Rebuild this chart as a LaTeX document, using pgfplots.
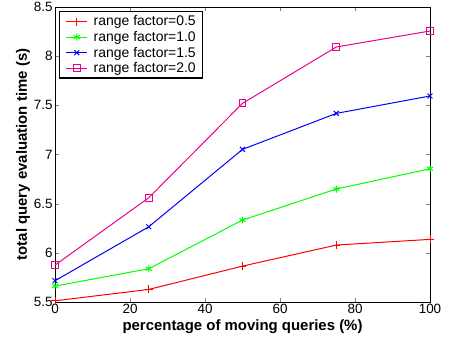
\documentclass[border=0pt]{standalone}
\usepackage{fontspec}
\setmainfont{Liberation Sans}
\usepackage{pgfplots}
\pgfplotsset{compat=1.18}
\begin{document}
\begin{tikzpicture}[x=1bp,y=1bp]
\path[use as bounding box] (0,0) rectangle (449,339);
\begin{axis}[
  at={(55bp,37bp)}, anchor=south west,
  scale only axis, width=375bp, height=295bp,
  xmin=0, xmax=100, ymin=5.5, ymax=8.5,
  xtick={0,20,40,60,80,100},
  ytick={5.5,6,6.5,7,7.5,8,8.5},
  yticklabels={5.5,6,6.5,7,7.5,8,8.5},
  tick align=inside,
  major tick length=4bp,
  /pgf/number format/assume math mode=true,
  tick label style={font=\fontsize{13.5}{14}\selectfont},
  xticklabel style={yshift=1bp},
  yticklabel style={xshift=1bp},
  xlabel={\bfseries percentage of moving queries (\%)},
  ylabel={\bfseries total query evaluation time (s)},
  label style={font=\fontsize{15}{16}\selectfont},
  xlabel style={yshift=1bp},
  ylabel style={yshift=-3bp},
  axis line style={line width=1pt},
  legend style={at={(0.011,0.986)}, anchor=north west, draw=black, line width=1.3pt,
    font=\fontsize{14}{15}\selectfont, row sep=0pt, inner xsep=5pt, inner ysep=2pt},
  legend cell align=left,
  legend image code/.code={\path (-1bp,0bp) (25bp,0bp); \draw[mark repeat=2,mark phase=2,#1] plot coordinates {(0bp,0bp) (10.5bp,0bp) (21bp,0bp)};},
  every axis plot/.append style={line width=1pt},
]
\addplot[red, mark=+, mark size=4pt] coordinates {(0,5.512) (25,5.628) (50,5.865) (75,6.079) (100,6.137)};
\addlegendentry{range factor=0.5}
\addplot[green, mark=asterisk, mark size=3.5pt] coordinates {(0,5.662) (25,5.838) (50,6.333) (75,6.649) (100,6.855)};
\addlegendentry{range factor=1.0}
\addplot[blue, mark=x, mark size=3.5pt] coordinates {(0,5.716) (25,6.265) (50,7.052) (75,7.418) (100,7.595)};
\addlegendentry{range factor=1.5}
\addplot[magenta, mark=square, mark size=3.5pt, mark options={fill=none}] coordinates {(0,5.875) (25,6.56) (50,7.52) (75,8.093) (100,8.256)};
\addlegendentry{range factor=2.0}
\end{axis}
\end{tikzpicture}
\end{document}
